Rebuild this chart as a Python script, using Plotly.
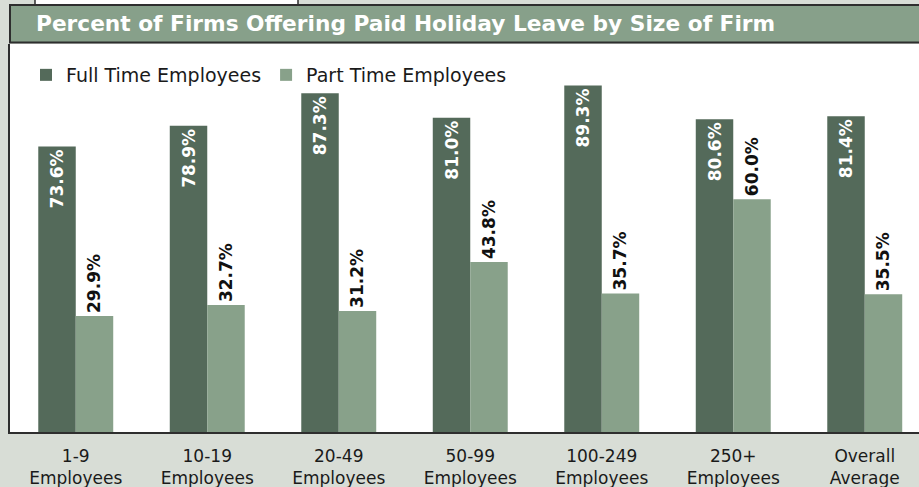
import plotly.graph_objects as go

categories = ["1-9<br>Employees", "10-19<br>Employees", "20-49<br>Employees",
              "50-99<br>Employees", "100-249<br>Employees", "250+<br>Employees",
              "Overall<br>Average"]
full_time = [73.6, 78.9, 87.3, 81.0, 89.3, 80.6, 81.4]
part_time = [29.9, 32.7, 31.2, 43.8, 35.7, 60.0, 35.5]
title_text = "Percent of Firms Offering Paid Holiday Leave by Size of Firm"

DARK = "#546a5a"
LIGHT = "#88a18a"
BG = "#d8ddd6"
BORDER = "#2e2e2e"
FONT = "DejaVu Sans"

W, H = 919, 487
ML, MR, MT, MB = 10, 0, 44, 55
PW = W - ML - MR
PH = H - MT - MB

def px_x(p):
    return (p - ML) / PW

def px_y(p):
    return (H - MB - p) / PH

fig = go.Figure()
fig.add_trace(go.Bar(
    name="Full Time Employees", x=categories, y=full_time,
    marker=dict(color=DARK, line=dict(width=0)),
    text=[f"{v:.1f}%" for v in full_time], textposition="inside",
    insidetextanchor="end", textangle=-90, constraintext="none",
    textfont=dict(family=FONT, size=17, color="white", weight="bold"),
    cliponaxis=False,
))
fig.add_trace(go.Bar(
    name="Part Time Employees", x=categories, y=part_time,
    marker=dict(color=LIGHT, line=dict(width=0)),
    text=[f"{v:.1f}%" for v in part_time], textposition="outside",
    textangle=-90, constraintext="none",
    textfont=dict(family=FONT, size=17, color="#111111", weight="bold"),
    cliponaxis=False,
))

step = 131.5
fig.update_layout(
    width=W, height=H,
    margin=dict(l=ML, r=MR, t=MT, b=MB, pad=0),
    paper_bgcolor=BG, plot_bgcolor="white",
    barmode="group", bargap=0.43, bargroupgap=0,
    showlegend=True,
    legend=dict(orientation="h", x=px_x(26), y=px_y(56), xanchor="left", yanchor="top",
                font=dict(family=FONT, size=19, color="#1a1a1a"),
                bgcolor="rgba(0,0,0,0)", itemclick=False, traceorder="normal"),
    xaxis=dict(type="category", range=[-0.5, -0.5 + PW / step],
               showline=True, linecolor=BORDER, linewidth=1.5, mirror=False,
               ticks="", showgrid=False, ticklabelstandoff=8,
               tickfont=dict(family=FONT, size=17, color="#1a1a1a")),
    yaxis=dict(range=[0, 100], showgrid=False, showticklabels=False, ticks="",
               showline=True, linecolor=BORDER, linewidth=1.5, zeroline=False),
    font=dict(family=FONT),
    shapes=[
        dict(type="rect", xref="paper", yref="paper",
             x0=px_x(35), x1=px_x(298), y0=px_y(5), y1=px_y(-3),
             fillcolor="white", line=dict(color=BORDER, width=1.5), layer="above"),
        dict(type="rect", xref="paper", yref="paper",
             x0=px_x(10), x1=px_x(925), y0=px_y(42.5), y1=px_y(5),
             fillcolor="#87a08a", line=dict(color=BORDER, width=2), layer="above"),
    ],
    annotations=[
        dict(text="<b>" + title_text + "</b>", xref="paper", yref="paper",
             x=px_x(34), y=px_y(24), xanchor="left", yanchor="middle",
             showarrow=False, font=dict(family=FONT, size=21.7, color="white")),
    ],
)

fig.write_html("out.html", config={"displayModeBar": False},
               post_script="document.body.style.margin='0';document.body.style.padding='0';document.body.style.overflow='hidden';")
